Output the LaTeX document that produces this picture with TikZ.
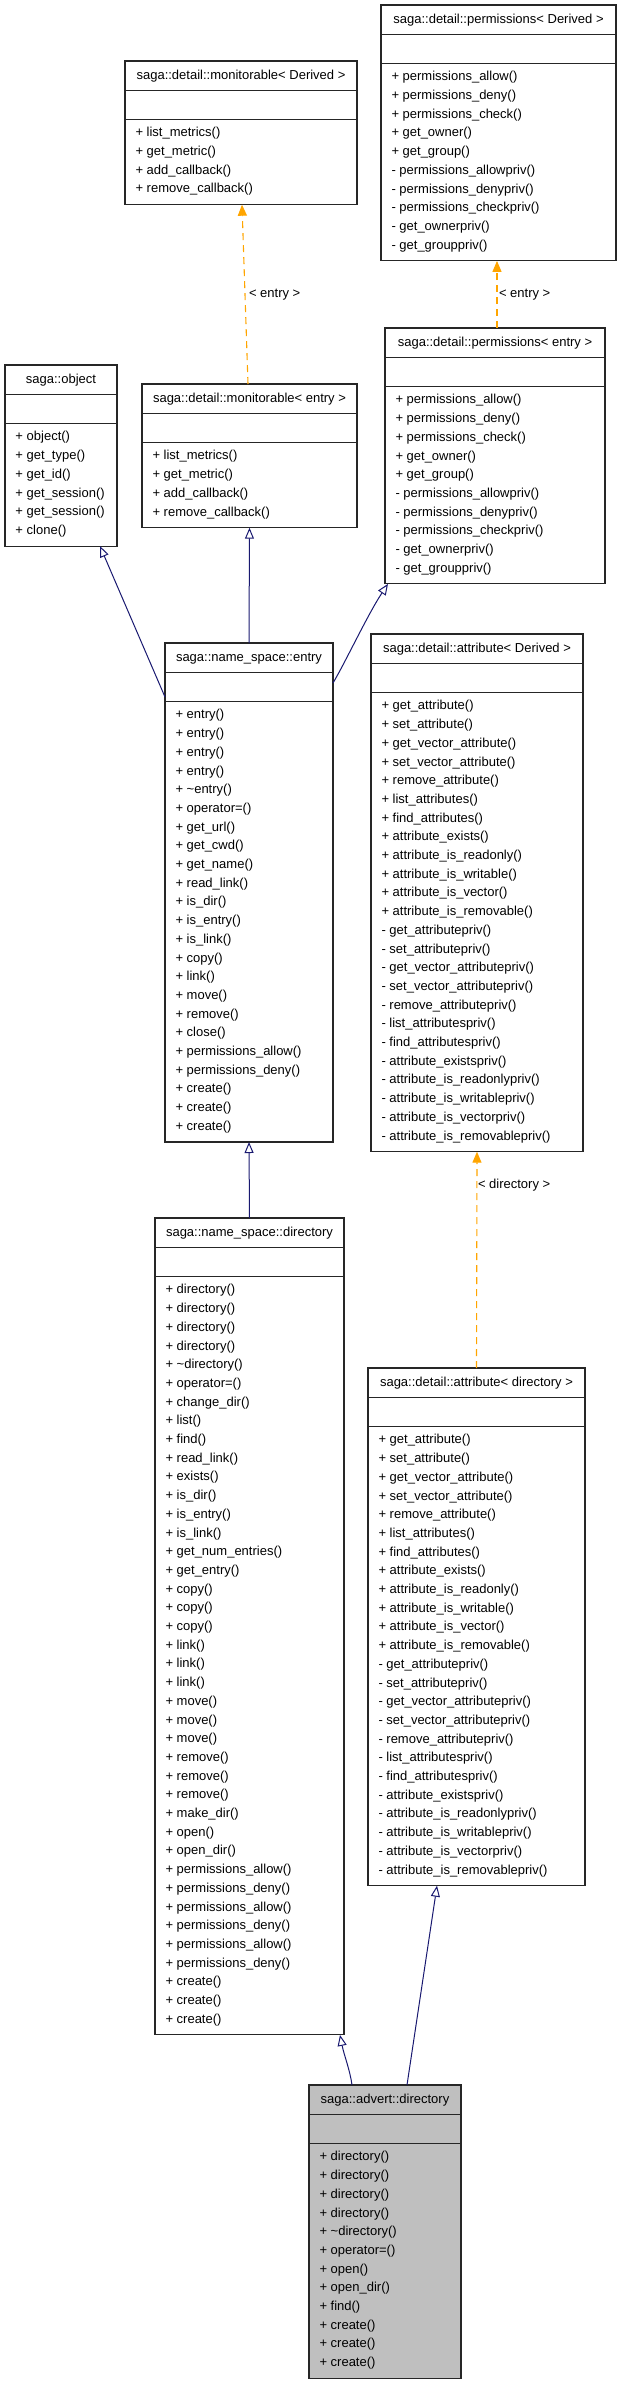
\documentclass[tikz,border=0pt]{standalone}
\usepackage{fontspec}
\setmainfont{Liberation Sans}
\usetikzlibrary{arrows.meta}
\definecolor{navy}{HTML}{191970}
\definecolor{orangeA}{HTML}{FFA500}
\definecolor{boxgray}{HTML}{BFBFBF}
\tikzset{
  boxframe/.style={draw=black!85, line width=1.1pt, inner sep=0pt, outer sep=0pt, rectangle},
  divider/.style={draw=black!85, line width=1.1pt},
  umltext/.style={inner sep=0pt, outer sep=0pt, font=\fontsize{13}{16}\selectfont},
  inherit/.style={draw=navy, line width=1pt, -{Triangle[open, length=11pt, width=9pt, line width=1pt]}},
  templ/.style={draw=orangeA, line width=1.1pt, dash pattern=on 7pt off 5pt, -{Triangle[length=11pt, width=9pt]}},
}
\newcommand\umlbox[8]{% name, x, top, width, n, title, fill, rows
  \pgfmathsetmacro\umlH{87.6+(#5-1)*18.7}
  \node[boxframe, fill=#7, anchor=north west, minimum width=#4pt, minimum height=\umlH pt] (#1) at (#2,#3) {};
  \draw[divider] (#2,#3+29.3) -- (#2+#4,#3+29.3);
  \draw[divider] (#2,#3+58.6) -- (#2+#4,#3+58.6);
  \node[umltext, anchor=base] (#1-title) at (#2+#4/2,#3+18.3) {#6};
  \foreach \rowtxt [count=\i] in {#8} {
    \node[umltext, anchor=base west] (#1-row\i) at (#2+10.5,#3+58.6+17.3+\i*18.7-18.7) {\rowtxt};
  }
}
\begin{document}
\begin{tikzpicture}[x=1pt, y=-1pt]
\useasboundingbox (0,0) rectangle (621,2384);

\umlbox{permD}{381}{5}{235}{10}{saga::detail::permissions< Derived >}{white}{+ permissions\_allow(), + permissions\_deny(), + permissions\_check(), + get\_owner(), + get\_group(), - permissions\_allowpriv(), - permissions\_denypriv(), - permissions\_checkpriv(), - get\_ownerpriv(), - get\_grouppriv()}

\umlbox{monD}{125}{61}{232}{4}{saga::detail::monitorable< Derived >}{white}{+ list\_metrics(), + get\_metric(), + add\_callback(), + remove\_callback()}

\umlbox{object}{5}{365}{112}{6}{saga::object}{white}{+ object(), + get\_type(), + get\_id(), + get\_session(), + get\_session(), + clone()}

\umlbox{monE}{142}{384}{215}{4}{saga::detail::monitorable< entry >}{white}{+ list\_metrics(), + get\_metric(), + add\_callback(), + remove\_callback()}

\umlbox{permE}{385}{328}{220}{10}{saga::detail::permissions< entry >}{white}{+ permissions\_allow(), + permissions\_deny(), + permissions\_check(), + get\_owner(), + get\_group(), - permissions\_allowpriv(), - permissions\_denypriv(), - permissions\_checkpriv(), - get\_ownerpriv(), - get\_grouppriv()}

\umlbox{entry}{165}{643}{168}{23}{saga::name\_space::entry}{white}{+ entry(), + entry(), + entry(), + entry(), + \textasciitilde entry(), + operator=(), + get\_url(), + get\_cwd(), + get\_name(), + read\_link(), + is\_dir(), + is\_entry(), + is\_link(), + copy(), + link(), + move(), + remove(), + close(), + permissions\_allow(), + permissions\_deny(), + create(), + create(), + create()}

\umlbox{attrD}{371}{634}{212}{24}{saga::detail::attribute< Derived >}{white}{+ get\_attribute(), + set\_attribute(), + get\_vector\_attribute(), + set\_vector\_attribute(), + remove\_attribute(), + list\_attributes(), + find\_attributes(), + attribute\_exists(), + attribute\_is\_readonly(), + attribute\_is\_writable(), + attribute\_is\_vector(), + attribute\_is\_removable(), - get\_attributepriv(), - set\_attributepriv(), - get\_vector\_attributepriv(), - set\_vector\_attributepriv(), - remove\_attributepriv(), - list\_attributespriv(), - find\_attributespriv(), - attribute\_existspriv(), - attribute\_is\_readonlypriv(), - attribute\_is\_writablepriv(), - attribute\_is\_vectorpriv(), - attribute\_is\_removablepriv()}

\umlbox{directory}{155}{1218}{189}{40}{saga::name\_space::directory}{white}{+ directory(), + directory(), + directory(), + directory(), + \textasciitilde directory(), + operator=(), + change\_dir(), + list(), + find(), + read\_link(), + exists(), + is\_dir(), + is\_entry(), + is\_link(), + get\_num\_entries(), + get\_entry(), + copy(), + copy(), + copy(), + link(), + link(), + link(), + move(), + move(), + move(), + remove(), + remove(), + remove(), + make\_dir(), + open(), + open\_dir(), + permissions\_allow(), + permissions\_deny(), + permissions\_allow(), + permissions\_deny(), + permissions\_allow(), + permissions\_deny(), + create(), + create(), + create()}

\umlbox{attrDir}{368}{1368}{217}{24}{saga::detail::attribute< directory >}{white}{+ get\_attribute(), + set\_attribute(), + get\_vector\_attribute(), + set\_vector\_attribute(), + remove\_attribute(), + list\_attributes(), + find\_attributes(), + attribute\_exists(), + attribute\_is\_readonly(), + attribute\_is\_writable(), + attribute\_is\_vector(), + attribute\_is\_removable(), - get\_attributepriv(), - set\_attributepriv(), - get\_vector\_attributepriv(), - set\_vector\_attributepriv(), - remove\_attributepriv(), - list\_attributespriv(), - find\_attributespriv(), - attribute\_existspriv(), - attribute\_is\_readonlypriv(), - attribute\_is\_writablepriv(), - attribute\_is\_vectorpriv(), - attribute\_is\_removablepriv()}

\umlbox{advert}{309}{2085}{152}{12}{saga::advert::directory}{boxgray}{+ directory(), + directory(), + directory(), + directory(), + \textasciitilde directory(), + operator=(), + open(), + open\_dir(), + find(), + create(), + create(), + create()}

% template instantiation edges
\draw[templ] ([xshift=2pt]permE.north) -- ([xshift=-1.5pt]permD.south);
\node[umltext, anchor=base west] (lblPerm) at (499,297.3) {< entry >};
\draw[templ] ([xshift=-1.5pt]monE.north) -- ([xshift=1pt]monD.south);
\node[umltext, anchor=base west] (lblMon) at (249,297.3) {< entry >};
\draw[templ] (attrDir.north) -- (attrD.south);
\node[umltext, anchor=base west] (lblAttr) at (478,1188.3) {< directory >};

% inheritance edges
\draw[inherit] (entry.north) -- (monE.south);
\draw[inherit] ([yshift=-54pt]entry.north west) -- ([xshift=-17pt]object.south east);
\draw[inherit] ([yshift=-40pt]entry.north east) .. controls ([xshift=12pt,yshift=-20pt]entry.north east) and ([xshift=-17pt,yshift=-30pt]permE.south west) .. ([xshift=3pt]permE.south west);
\draw[inherit] (directory.north) -- (entry.south);
\draw[inherit] ([xshift=-33pt]advert.north) .. controls ([xshift=-35pt,yshift=15pt]advert.north) and ([xshift=-41pt,yshift=30pt]advert.north) .. ([xshift=-4pt]directory.south east);
\draw[inherit] ([xshift=22pt]advert.north) -- ([xshift=-39.5pt]attrDir.south);
\end{tikzpicture}
\end{document}
